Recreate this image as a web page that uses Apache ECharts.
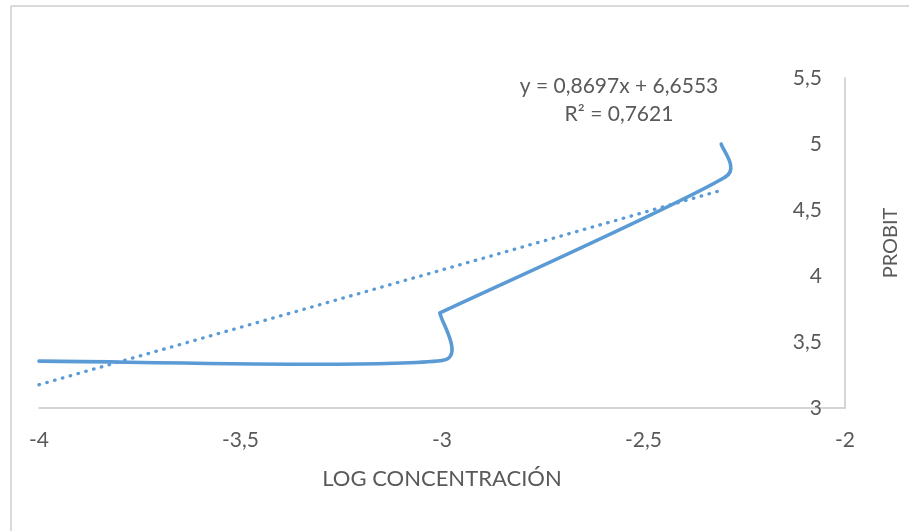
<!DOCTYPE html>
<html>
<head>
<meta charset="utf-8">
<script src="https://cdn.jsdelivr.net/npm/echarts@6/dist/echarts.min.js"></script>
<style>
html,body{margin:0;padding:0;background:#fff;}
#chart{width:909px;height:531px;}
</style>
</head>
<body>
<div id="chart"></div>
<script>
// Data (log concentration vs probit), in sheet order
const logConc = [-4, -3, -3.005, -3.005, -2.297, -2.307];
const probit = [3.355, 3.36, 3.72, 3.72, 4.75, 5.0];
// Trendline (linear fit shown in chart)
const slope = 0.8697;
const intercept = 6.6553;
const r2 = 0.7621;
const trendRange = [-4, -2.3];
// Axis settings
const xMin = -4, xMax = -2, xStep = 0.5;
const yMin = 3, yMax = 5.5, yStep = 0.5;
const xTitle = 'LOG CONCENTRACIÓN';
const yTitle = 'PROBIT';

const fmt = v => String(v).replace('.', ',');
const lineData = logConc.map((x, i) => [x, probit[i]]);
const trendData = trendRange.map(x => [x, slope * x + intercept]);

const FONT = 'Lato';
const GRAY = '#595959';
const BLUE = '#5B9BD5';

// Excel-style smoothed line: cubic Bezier segments with limited control arms
function smoothSegments(pts) {
  const segs = [];
  const d = (a, b) => Math.hypot(b[0] - a[0], b[1] - a[1]);
  const n = pts.length;
  for (let i = 0; i < n - 1; i++) {
    const p0 = pts[Math.max(i - 1, 0)], p1 = pts[i], p2 = pts[i + 1], p3 = pts[Math.min(i + 2, n - 1)];
    const d02 = d(p0, p2), d12 = d(p1, p2), d13 = d(p1, p3);
    if (d12 < 1e-6) continue;
    let f1 = 1 / 6, f2 = 1 / 6;
    if (d02 / 6 >= d12 / 2) f1 = d02 > 0 ? d12 / d02 / 2 : 0;
    if (d13 / 6 >= d12 / 2) f2 = d13 > 0 ? d12 / d13 / 2 : 0;
    segs.push({
      x1: p1[0], y1: p1[1], x2: p2[0], y2: p2[1],
      cpx1: p1[0] + f1 * (p2[0] - p0[0]), cpy1: p1[1] + f1 * (p2[1] - p0[1]),
      cpx2: p2[0] - f2 * (p3[0] - p1[0]), cpy2: p2[1] - f2 * (p3[1] - p1[1])
    });
  }
  return segs;
}

const chart = echarts.init(document.getElementById('chart'), null, {renderer: 'canvas'});

chart.setOption({
  animation: false,
  backgroundColor: '#fff',
  grid: {left: 39, right: 62, top: 78, bottom: 123, containLabel: false},
  xAxis: {
    type: 'value', min: xMin, max: xMax, interval: xStep,
    name: xTitle, nameLocation: 'middle', nameGap: 60,
    nameTextStyle: {color: GRAY, fontFamily: FONT, fontSize: 22},
    axisLine: {show: true, onZero: false, lineStyle: {color: '#c8c8c8', width: 1.5}},
    axisTick: {show: false},
    splitLine: {show: false},
    axisLabel: {color: GRAY, fontFamily: FONT, fontSize: 21, margin: 22, formatter: v => fmt(v)}
  },
  yAxis: {
    type: 'value', min: yMin, max: yMax, interval: yStep, position: 'right',
    name: yTitle, nameLocation: 'middle', nameGap: 36, nameRotate: 90,
    nameTextStyle: {color: GRAY, fontFamily: FONT, fontSize: 20},
    axisLine: {show: true, onZero: false, lineStyle: {color: '#c8c8c8', width: 1.5}},
    axisTick: {show: false},
    splitLine: {show: false},
    axisLabel: {inside: true, color: GRAY, fontFamily: FONT, fontSize: 21, margin: 23, formatter: v => fmt(v)}
  },
  graphic: [
    {type: 'line', shape: {x1: 11, y1: 6, x2: 909, y2: 6}, style: {stroke: '#d9d9d9', lineWidth: 2}},
    {type: 'line', shape: {x1: 11, y1: 6, x2: 11, y2: 531}, style: {stroke: '#d9d9d9', lineWidth: 2}},
    {type: 'text', x: 619, y: 86, style: {
      text: 'y = ' + fmt(slope) + 'x + ' + fmt(intercept),
      fill: GRAY, font: '21px Lato', align: 'center', verticalAlign: 'middle'}},
    {type: 'text', x: 619, y: 114, style: {
      text: 'R² = ' + fmt(r2),
      fill: GRAY, font: '21px Lato', align: 'center', verticalAlign: 'middle'}}
  ],
  series: [
    {
      type: 'custom',
      data: lineData,
      encode: {x: 0, y: 1},
      z: 3,
      renderItem: function (params, api) {
        if (params.dataIndex !== 0) return null;
        const pts = lineData.map(p => api.coord(p));
        return {
          type: 'group',
          children: smoothSegments(pts).map(s => ({
            type: 'bezierCurve',
            shape: s,
            style: {stroke: BLUE, fill: null, lineWidth: 3.6, lineCap: 'round', lineJoin: 'round'}
          }))
        };
      }
    },
    {
      type: 'line', data: trendData, showSymbol: false, z: 2,
      lineStyle: {color: BLUE, width: 3.3, type: [0.5, 7.6], cap: 'round'}
    }
  ]
});
</script>
</body>
</html>
